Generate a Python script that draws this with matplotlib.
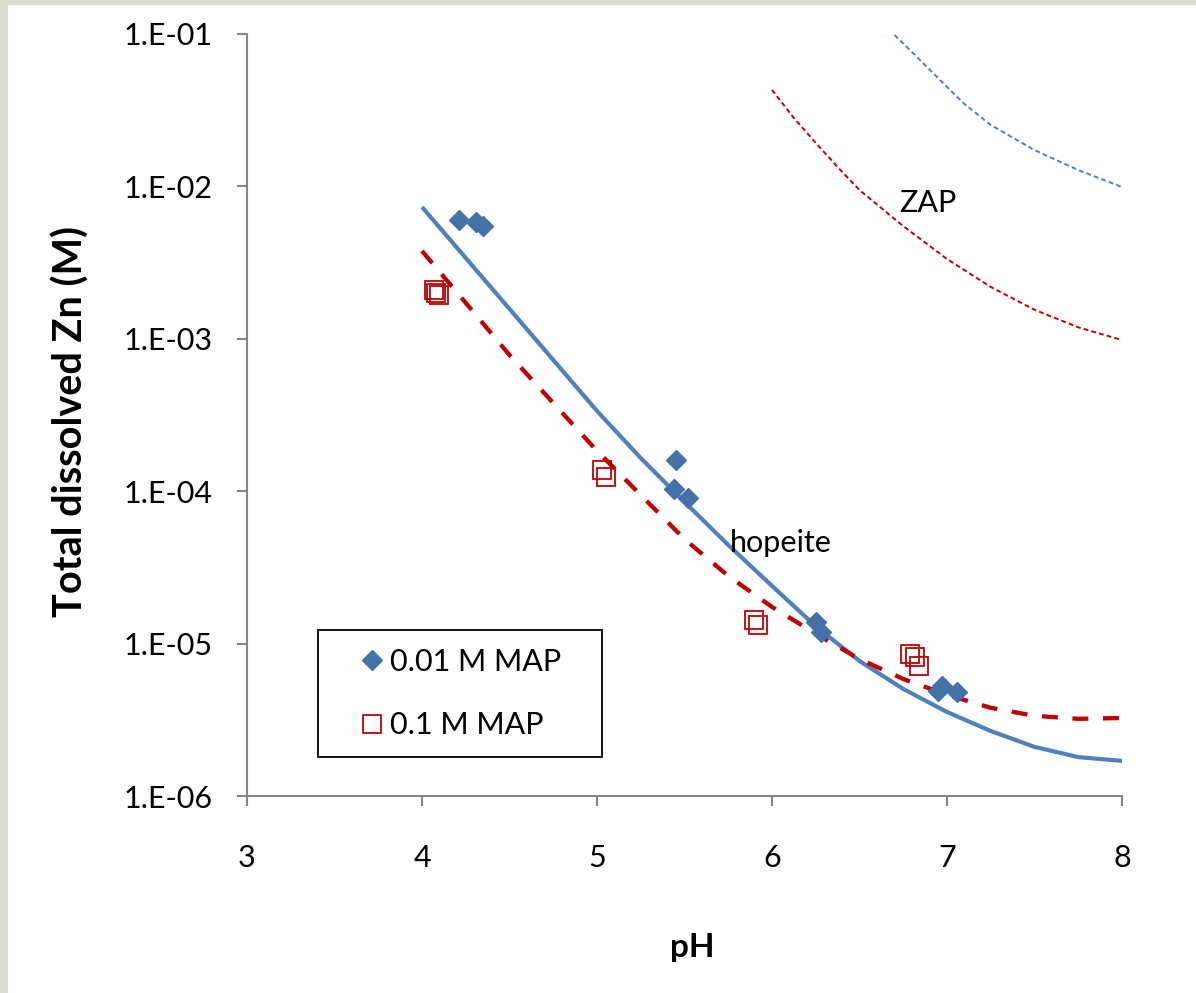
import math
import matplotlib
matplotlib.use("Agg")
import matplotlib.pyplot as plt
import matplotlib.patches as patches
from matplotlib.ticker import FixedLocator, FuncFormatter, NullLocator

plt.rcParams['font.family'] = ['Lato', 'DejaVu Sans']

# measured points, 0.01 M MAP
ph_01 = [4.21, 4.31, 4.35, 5.45, 5.44, 5.52, 6.25, 6.28, 6.97, 6.95, 7.06]
zn_01 = [6.0e-3, 5.8e-3, 5.5e-3, 1.6e-4, 1.03e-4, 9.0e-5, 1.39e-5, 1.19e-5, 5.3e-6, 4.9e-6, 4.8e-6]

# measured points, 0.1 M MAP
ph_1 = [4.07, 4.08, 4.10, 5.03, 5.05, 5.90, 5.92, 6.79, 6.82, 6.84]
zn_1 = [2.1e-3, 2.0e-3, 1.95e-3, 1.38e-4, 1.23e-4, 1.43e-5, 1.32e-5, 8.5e-6, 8.2e-6, 7.1e-6]

# hopeite model curves
ph_curve = [4.0, 4.25, 4.5, 4.75, 5.0, 5.25, 5.5, 5.75, 6.0, 6.25, 6.5, 6.75, 7.0, 7.25, 7.5, 7.75, 8.0]
hop_01 = [7.33e-3, 3.39e-3, 1.57e-3, 7.26e-4, 3.36e-4, 1.65e-4, 8.50e-5, 4.44e-5, 2.39e-5,
          1.30e-5, 7.69e-6, 5.04e-6, 3.56e-6, 2.67e-6, 2.10e-6, 1.80e-6, 1.70e-6]
hop_1 = [3.77e-3, 1.72e-3, 7.83e-4, 3.79e-4, 1.84e-4, 9.44e-5, 4.85e-5, 2.78e-5, 1.74e-5,
         1.16e-5, 7.92e-6, 5.86e-6, 4.61e-6, 3.79e-6, 3.36e-6, 3.21e-6, 3.25e-6]

# ZAP model curves
ph_zap_1 = [6.0, 6.125, 6.25, 6.375, 6.5, 6.75, 7.0, 7.25, 7.5, 7.75, 8.0]
zap_1 = [4.30e-2, 2.81e-2, 1.93e-2, 1.34e-2, 9.46e-3, 5.49e-3, 3.34e-3, 2.19e-3, 1.55e-3, 1.19e-3, 9.81e-4]
ph_zap_01 = [6.7, 6.8, 6.9, 7.0, 7.1, 7.25, 7.5, 7.75, 8.0]
zap_01 = [9.85e-2, 7.62e-2, 5.85e-2, 4.49e-2, 3.47e-2, 2.53e-2, 1.73e-2, 1.28e-2, 9.91e-3]

y_ticks = [1e-6, 1e-5, 1e-4, 1e-3, 1e-2, 1e-1]
x_ticks = [3, 4, 5, 6, 7, 8]

blue_line = '#4F81BD'
blue_mark = '#4472A8'
red = '#C00000'
gray = '#868686'

fig = plt.figure(figsize=(11.96, 9.93), dpi=100, facecolor='#DFDDD0')
fig.patches.append(patches.Rectangle((8 / 1196, 0), 1, (993 - 5) / 993,
                                     transform=fig.transFigure, facecolor='white',
                                     edgecolor='none', zorder=-10))
ax = fig.add_axes([247 / 1196, 197 / 993, 875 / 1196, 762 / 993])
ax.set_facecolor('none')
ax.set_zorder(5)

ax.plot(ph_curve, hop_01, color=blue_line, lw=3.0, solid_capstyle='butt',
        solid_joinstyle='round', zorder=2)
ax.plot(ph_curve, hop_1, color=red, lw=3.1, dashes=(3.7, 3.4), zorder=2)
ax.plot(ph_zap_1, zap_1, color=red, lw=1.4, dashes=(2.5, 1.6), zorder=2)
ax.plot(ph_zap_01, zap_01, color=blue_line, lw=1.4, dashes=(2.5, 1.6), zorder=2)

ax.plot(ph_01, zn_01, 'D', ms=10.5, color=blue_mark, mec=blue_mark, mew=1,
        label='0.01 M MAP', zorder=3)
ax.plot(ph_1, zn_1, 's', ms=13.5, mfc='none', mec=red, mew=1.3,
        label='0.1 M MAP', zorder=3)

ax.set_yscale('log')
ax.set_xlim(3, 8)
ax.set_ylim(1e-6, 1e-1)
ax.xaxis.set_major_locator(FixedLocator(x_ticks))
ax.yaxis.set_major_locator(FixedLocator(y_ticks))
ax.yaxis.set_minor_locator(NullLocator())
ax.yaxis.set_major_formatter(FuncFormatter(lambda v, p: '1.E-%02d' % round(-math.log10(v))))

for s in ['top', 'right']:
    ax.spines[s].set_visible(False)
for s in ['left', 'bottom']:
    ax.spines[s].set_color(gray)
    ax.spines[s].set_linewidth(1.5)
ax.tick_params(axis='both', colors=gray, length=7.5, width=1.5, labelcolor='black',
               labelsize=22)
ax.tick_params(axis='x', pad=27)
ax.tick_params(axis='y', pad=17)

fig.text(692 / 1196, 1 - 948 / 993, 'pH', fontsize=24, fontweight='bold',
         ha='center', va='center')
fig.text(71 / 1196, 1 - 421 / 993, 'Total dissolved Zn (M)', fontsize=28.5,
         fontweight='bold', rotation=90, ha='center', va='center')

ax.text(6.05, 4.57e-5, 'hopeite', fontsize=22, ha='center', va='center')
ax.text(6.89, 7.8e-3, 'ZAP', fontsize=22, ha='center', va='center')

leg = ax.legend(loc='lower left', bbox_to_anchor=(0.0811, 0.0512, 0.3246, 0.16),
                mode='expand', borderaxespad=0,
                fontsize=22, frameon=True, fancybox=False, framealpha=1,
                borderpad=0.58, labelspacing=1.16, handlelength=2.37,
                handletextpad=-0.6, numpoints=1)
leg.get_frame().set_edgecolor('black')
leg.get_frame().set_linewidth(1.3)

fig.savefig('out.png', dpi=100, facecolor=fig.get_facecolor())
